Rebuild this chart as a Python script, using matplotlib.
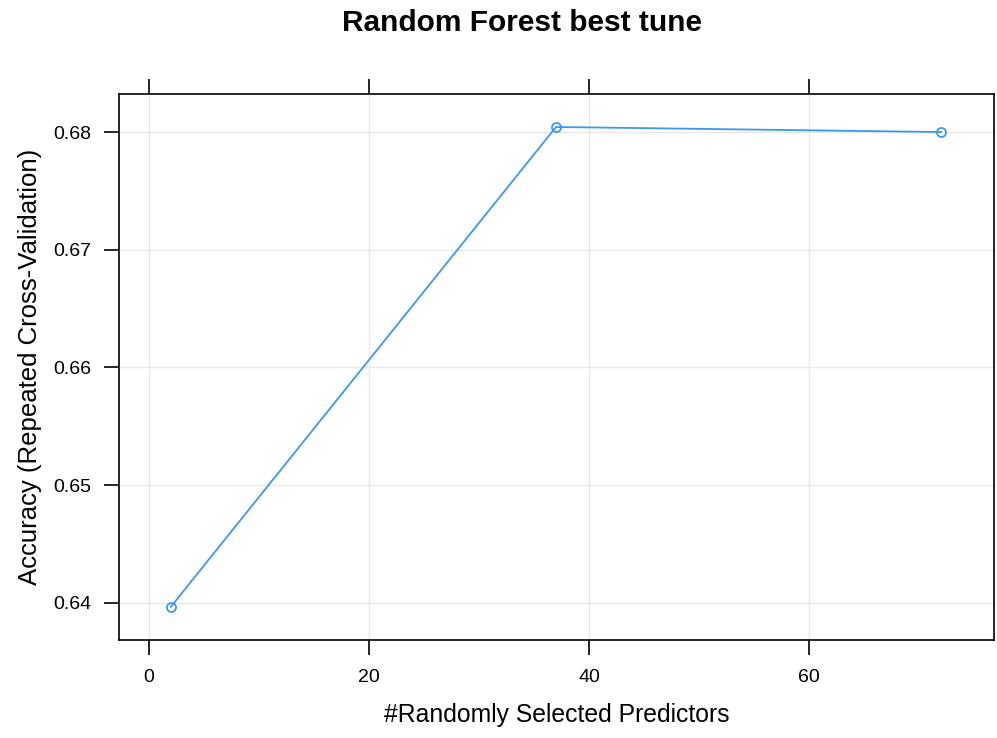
import matplotlib.pyplot as plt

plt.rcParams['font.family'] = ['Liberation Sans', 'DejaVu Sans']

# mtry values and resampled accuracy
mtry = [2, 37, 72]
accuracy = [0.63966, 0.68043, 0.68000]
x_ticks = [0, 20, 40, 60]
y_ticks = [0.64, 0.65, 0.66, 0.67, 0.68]

fig = plt.figure(figsize=(9.97, 7.38), dpi=100)
ax = fig.add_axes([0.1194, 0.1328, 0.8776, 0.7398])

ax.plot(mtry, accuracy, color='#3c96f5', linewidth=1.3, marker='o',
        markersize=6.5, markerfacecolor='none', markeredgewidth=1.3)

ax.set_xlim(-2.7, 76.8)
ax.set_ylim(0.63685, 0.68323)
ax.set_xticks(x_ticks)
ax.set_yticks(y_ticks)
ax.set_yticklabels([f'{v:.2f}' for v in y_ticks])
ax.grid(True, color='#e8e8e8', linewidth=1)
ax.set_axisbelow(True)

ax.tick_params(axis='x', top=True, bottom=True, direction='out', length=11,
               width=1.2, labelsize=14, pad=10)
ax.tick_params(axis='y', left=True, right=False, direction='out', length=11,
               width=1.2, labelsize=14, pad=9)
for s in ax.spines.values():
    s.set_linewidth(1.2)

ax.set_xlabel('#Randomly Selected Predictors', fontsize=17.8, labelpad=12)
ax.set_ylabel('Accuracy (Repeated Cross-Validation)', fontsize=18.5, labelpad=8)
fig.text(522 / 997, 1 - 23 / 738, 'Random Forest best tune', ha='center',
         va='center', fontsize=21.5, fontweight='bold')

fig.savefig('out.png', dpi=100)
